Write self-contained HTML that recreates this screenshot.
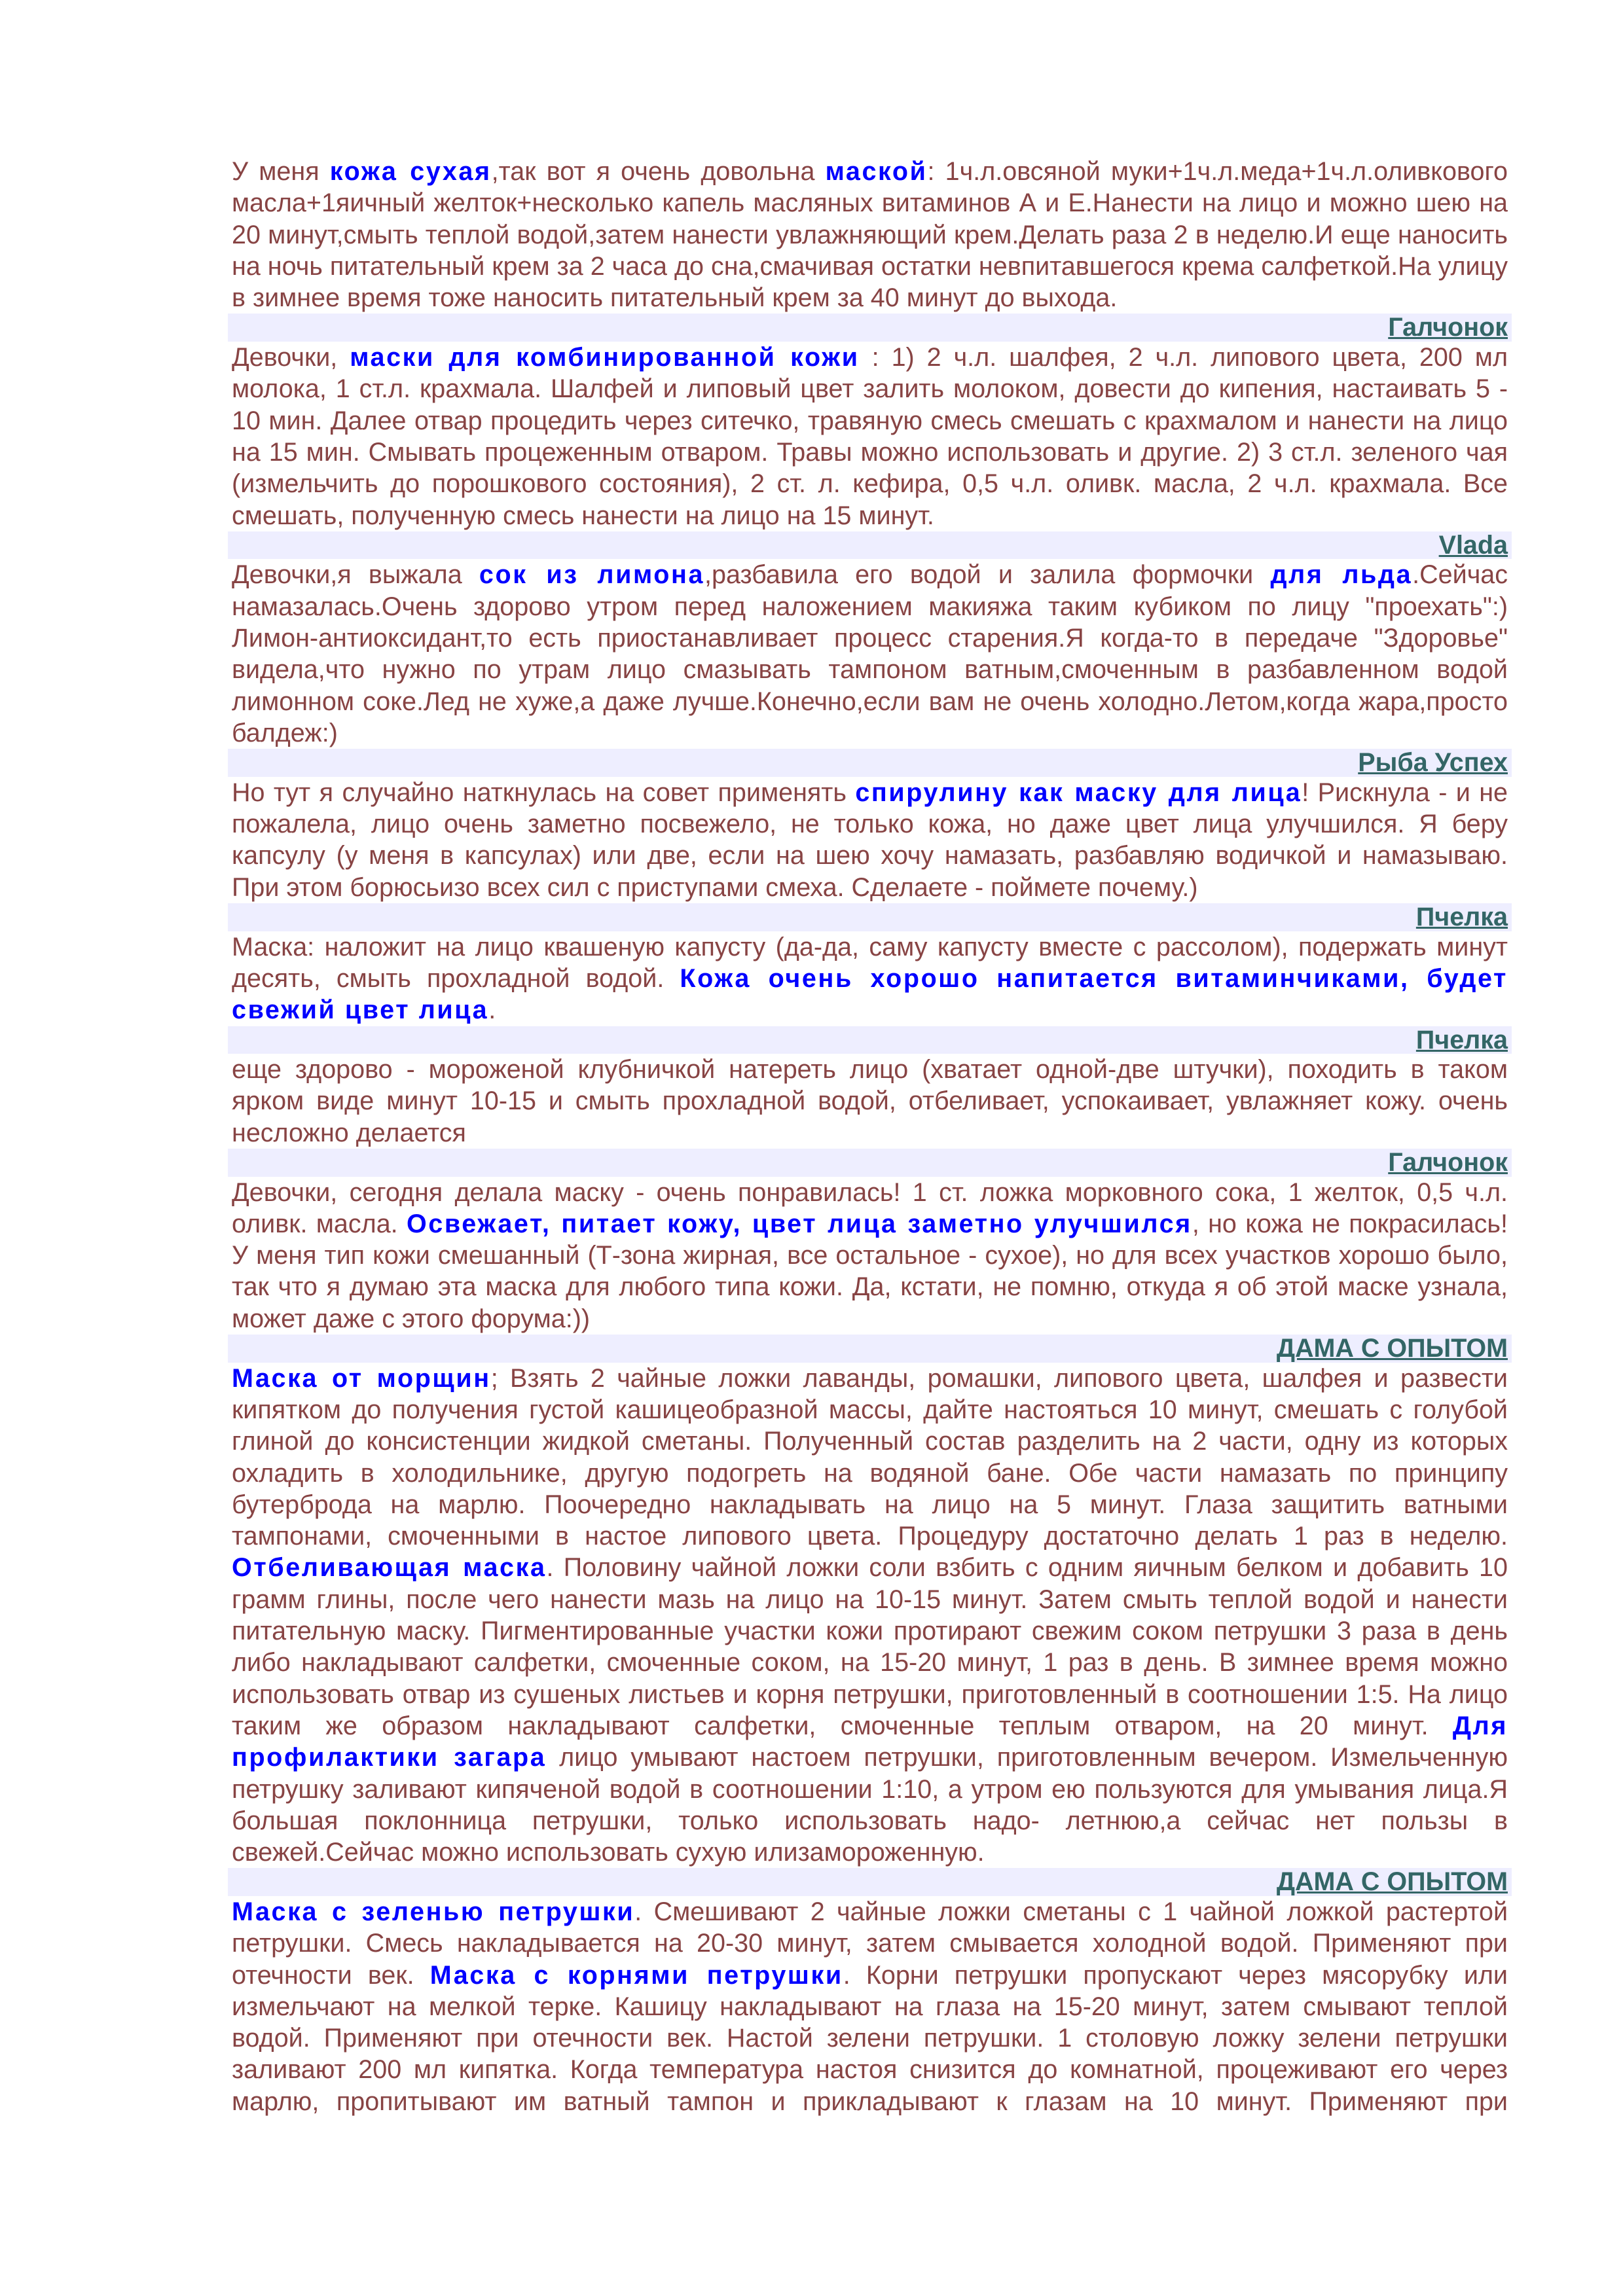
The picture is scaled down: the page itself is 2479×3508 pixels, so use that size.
<!DOCTYPE html>
<html><head><meta charset="utf-8"><style>
html,body{margin:0;padding:0;background:#fff;}
body{width:2479px;height:3508px;position:relative;overflow:hidden;}
#c{position:absolute;left:348px;top:238px;width:1961px;font-family:"Liberation Sans","DejaVu Sans",sans-serif;font-size:39.5px;color:#884444;}
.l{height:48.3px;line-height:48.3px;padding:0 6px;white-space:nowrap;text-align:justify;text-align-last:justify;}
.e{text-align:left;text-align-last:left;}
b{color:#0000ff;letter-spacing:2.6px;}
.a{height:42.6px;line-height:42.6px;background:#eeeeff;text-align:right;padding:0 6px;font-weight:bold;}
.a u{color:#336666;}
</style></head><body><div id="c">
<div class="l">У меня <b>кожа сухая</b>,так вот я очень довольна <b>маской</b>: 1ч.л.овсяной муки+1ч.л.меда+1ч.л.оливкового</div>
<div class="l">масла+1яичный желток+несколько капель масляных витаминов А и Е.Нанести на лицо и можно шею на</div>
<div class="l">20 минут,смыть теплой водой,затем нанести увлажняющий крем.Делать раза 2 в неделю.И еще наносить</div>
<div class="l">на ночь питательный крем за 2 часа до сна,смачивая остатки невпитавшегося крема салфеткой.На улицу</div>
<div class="l e">в зимнее время тоже наносить питательный крем за 40 минут до выхода.</div>
<div class="a"><u>Галчонок</u></div>
<div class="l">Девочки, <b>маски для комбинированной кожи</b> : 1) 2 ч.л. шалфея, 2 ч.л. липового цвета, 200 мл</div>
<div class="l">молока, 1 ст.л. крахмала. Шалфей и липовый цвет залить молоком, довести до кипения, настаивать 5 -</div>
<div class="l">10 мин. Далее отвар процедить через ситечко, травяную смесь смешать с крахмалом и нанести на лицо</div>
<div class="l">на 15 мин. Смывать процеженным отваром. Травы можно использовать и другие. 2) 3 ст.л. зеленого чая</div>
<div class="l">(измельчить до порошкового состояния), 2 ст. л. кефира, 0,5 ч.л. оливк. масла, 2 ч.л. крахмала. Все</div>
<div class="l e">смешать, полученную смесь нанести на лицо на 15 минут.</div>
<div class="a"><u>Vlada</u></div>
<div class="l">Девочки,я выжала <b>сок из лимона</b>,разбавила его водой и залила формочки <b>для льда</b>.Сейчас</div>
<div class="l">намазалась.Очень здорово утром перед наложением макияжа таким кубиком по лицу "проехать":)</div>
<div class="l">Лимон-антиоксидант,то есть приостанавливает процесс старения.Я когда-то в передаче "Здоровье"</div>
<div class="l">видела,что нужно по утрам лицо смазывать тампоном ватным,смоченным в разбавленном водой</div>
<div class="l">лимонном соке.Лед не хуже,а даже лучше.Конечно,если вам не очень холодно.Летом,когда жара,просто</div>
<div class="l e">балдеж:)</div>
<div class="a"><u>Рыба Успех</u></div>
<div class="l">Но тут я случайно наткнулась на совет применять <b>спирулину как маску для лица</b>! Рискнула - и не</div>
<div class="l">пожалела, лицо очень заметно посвежело, не только кожа, но даже цвет лица улучшился. Я беру</div>
<div class="l">капсулу (у меня в капсулах) или две, если на шею хочу намазать, разбавляю водичкой и намазываю.</div>
<div class="l e">При этом борюсьизо всех сил с приступами смеха. Сделаете - поймете почему.)</div>
<div class="a"><u>Пчелка</u></div>
<div class="l">Маска: наложит на лицо квашеную капусту (да-да, саму капусту вместе с рассолом), подержать минут</div>
<div class="l">десять, смыть прохладной водой. <b>Кожа очень хорошо напитается витаминчиками, будет</b></div>
<div class="l e"><b>свежий цвет лица</b>.</div>
<div class="a"><u>Пчелка</u></div>
<div class="l">еще здорово - мороженой клубничкой натереть лицо (хватает одной-две штучки), походить в таком</div>
<div class="l">ярком виде минут 10-15 и смыть прохладной водой, отбеливает, успокаивает, увлажняет кожу. очень</div>
<div class="l e">несложно делается</div>
<div class="a"><u>Галчонок</u></div>
<div class="l">Девочки, сегодня делала маску - очень понравилась! 1 ст. ложка морковного сока, 1 желток, 0,5 ч.л.</div>
<div class="l">оливк. масла. <b>Освежает, питает кожу, цвет лица заметно улучшился</b>, но кожа не покрасилась!</div>
<div class="l">У меня тип кожи смешанный (Т-зона жирная, все остальное - сухое), но для всех участков хорошо было,</div>
<div class="l">так что я думаю эта маска для любого типа кожи. Да, кстати, не помню, откуда я об этой маске узнала,</div>
<div class="l e">может даже с этого форума:))</div>
<div class="a"><u>ДАМА С ОПЫТОМ</u></div>
<div class="l"><b>Маска от морщин</b>; Взять 2 чайные ложки лаванды, ромашки, липового цвета, шалфея и развести</div>
<div class="l">кипятком до получения густой кашицеобразной массы, дайте настояться 10 минут, смешать с голубой</div>
<div class="l">глиной до консистенции жидкой сметаны. Полученный состав разделить на 2 части, одну из которых</div>
<div class="l">охладить в холодильнике, другую подогреть на водяной бане. Обе части намазать по принципу</div>
<div class="l">бутерброда на марлю. Поочередно накладывать на лицо на 5 минут. Глаза защитить ватными</div>
<div class="l">тампонами, смоченными в настое липового цвета. Процедуру достаточно делать 1 раз в неделю.</div>
<div class="l"><b>Отбеливающая маска</b>. Половину чайной ложки соли взбить с одним яичным белком и добавить 10</div>
<div class="l">грамм глины, после чего нанести мазь на лицо на 10-15 минут. Затем смыть теплой водой и нанести</div>
<div class="l">питательную маску. Пигментированные участки кожи протирают свежим соком петрушки 3 раза в день</div>
<div class="l">либо накладывают салфетки, смоченные соком, на 15-20 минут, 1 раз в день. В зимнее время можно</div>
<div class="l">использовать отвар из сушеных листьев и корня петрушки, приготовленный в соотношении 1:5. На лицо</div>
<div class="l">таким же образом накладывают салфетки, смоченные теплым отваром, на 20 минут. <b>Для</b></div>
<div class="l"><b>профилактики загара</b> лицо умывают настоем петрушки, приготовленным вечером. Измельченную</div>
<div class="l">петрушку заливают кипяченой водой в соотношении 1:10, а утром ею пользуются для умывания лица.Я</div>
<div class="l">большая поклонница петрушки, только использовать надо- летнюю,а сейчас нет пользы в</div>
<div class="l e">свежей.Сейчас можно использовать сухую илизамороженную.</div>
<div class="a"><u>ДАМА С ОПЫТОМ</u></div>
<div class="l"><b>Маска с зеленью петрушки</b>. Смешивают 2 чайные ложки сметаны с 1 чайной ложкой растертой</div>
<div class="l">петрушки. Смесь накладывается на 20-30 минут, затем смывается холодной водой. Применяют при</div>
<div class="l">отечности век. <b>Маска с корнями петрушки</b>. Корни петрушки пропускают через мясорубку или</div>
<div class="l">измельчают на мелкой терке. Кашицу накладывают на глаза на 15-20 минут, затем смывают теплой</div>
<div class="l">водой. Применяют при отечности век. Настой зелени петрушки. 1 столовую ложку зелени петрушки</div>
<div class="l">заливают 200 мл кипятка. Когда температура настоя снизится до комнатной, процеживают его через</div>
<div class="l">марлю, пропитывают им ватный тампон и прикладывают к глазам на 10 минут. Применяют при</div>
</div></body></html>
